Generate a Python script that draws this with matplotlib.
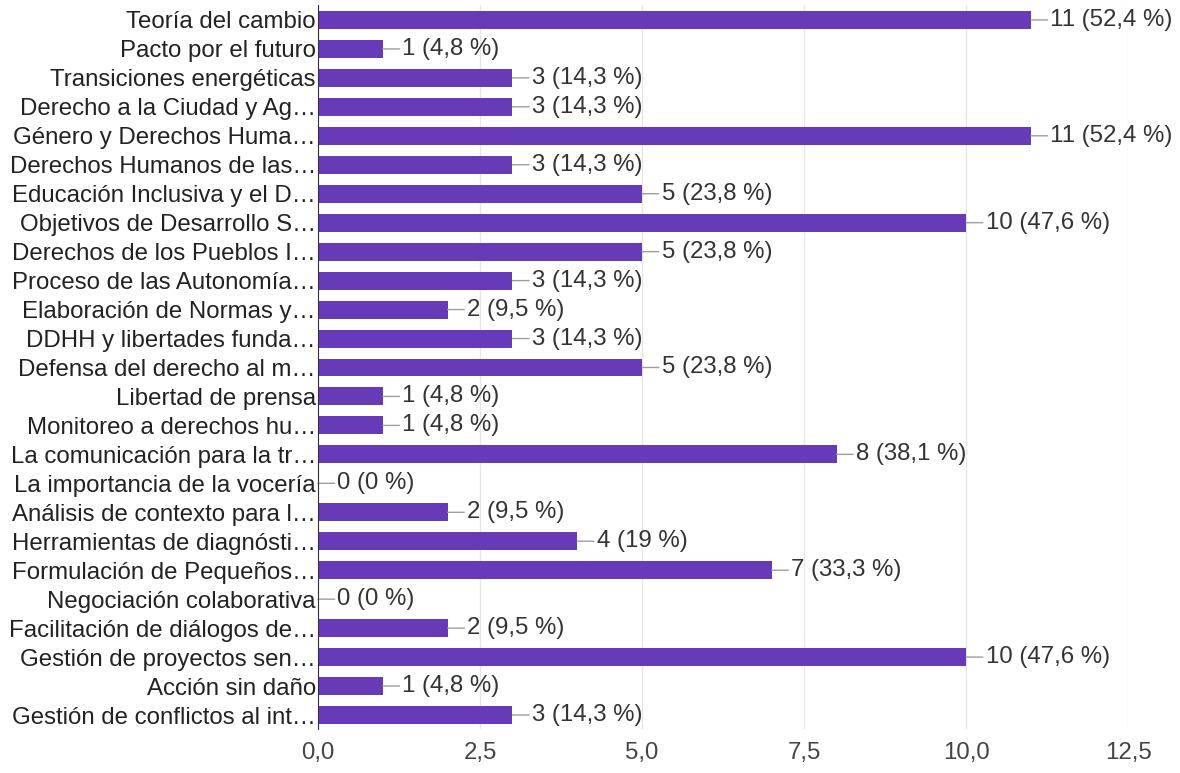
import matplotlib.pyplot as plt

plt.rcParams['font.family'] = ['Liberation Sans', 'DejaVu Sans']

categorias = [
    "Teoría del cambio", "Pacto por el futuro", "Transiciones energéticas",
    "Derecho a la Ciudad y Ag…", "Género y Derechos Huma…", "Derechos Humanos de las…",
    "Educación Inclusiva y el D…", "Objetivos de Desarrollo S…", "Derechos de los Pueblos I…",
    "Proceso de las Autonomía…", "Elaboración de Normas y…", "DDHH y libertades funda…",
    "Defensa del derecho al m…", "Libertad de prensa", "Monitoreo a derechos hu…",
    "La comunicación para la tr…", "La importancia de la vocería", "Análisis de contexto para l…",
    "Herramientas de diagnósti…", "Formulación de Pequeños…", "Negociación colaborativa",
    "Facilitación de diálogos de…", "Gestión de proyectos sen…", "Acción sin daño",
    "Gestión de conflictos al int…",
]
valores = [11, 1, 3, 3, 11, 3, 5, 10, 5, 3, 2, 3, 5, 1, 1, 8, 0, 2, 4, 7, 0, 2, 10, 1, 3]
etiquetas = ["11 (52,4 %)", "1 (4,8 %)", "3 (14,3 %)", "3 (14,3 %)", "11 (52,4 %)",
             "3 (14,3 %)", "5 (23,8 %)", "10 (47,6 %)", "5 (23,8 %)", "3 (14,3 %)",
             "2 (9,5 %)", "3 (14,3 %)", "5 (23,8 %)", "1 (4,8 %)", "1 (4,8 %)",
             "8 (38,1 %)", "0 (0 %)", "2 (9,5 %)", "4 (19 %)", "7 (33,3 %)",
             "0 (0 %)", "2 (9,5 %)", "10 (47,6 %)", "1 (4,8 %)", "3 (14,3 %)"]
ticks = [0, 2.5, 5, 7.5, 10, 12.5]
tick_labels = ["0,0", "2,5", "5,0", "7,5", "10,0", "12,5"]

fig = plt.figure(figsize=(11.8, 7.73), dpi=100)
ax = fig.add_axes([0.2695, 0.0563, 0.6866, 0.9366])

pos = list(range(len(categorias)))
ax.barh(pos, valores, height=0.62, color='#673ab7', zorder=3)

for p, v, t in zip(pos, valores, etiquetas):
    ax.annotate(t, xy=(v, p), xytext=(14, 0), textcoords='offset points',
                va='center', ha='left', fontsize=17.3, color='#333333',
                arrowprops=dict(arrowstyle='-', color='#9e9e9e', lw=1,
                                shrinkA=0, shrinkB=0))

ax.set_yticks(pos)
ax.set_yticklabels(categorias, fontsize=17.3, color='#222222')
ax.set_ylim(len(categorias) - 0.5, -0.5)
ax.set_xlim(0, 12.5)
ax.set_xticks(ticks)
ax.set_xticklabels(tick_labels, fontsize=17.3, color='#444444')
ax.tick_params(axis='both', length=0)
ax.tick_params(axis='x', pad=9)
ax.tick_params(axis='y', pad=1.5)
ax.grid(axis='x', color='#e6e6e6', lw=1, zorder=0)

for s in ['top', 'right', 'bottom']:
    ax.spines[s].set_visible(False)
ax.spines['left'].set_color('#333333')
ax.spines['left'].set_zorder(4)

fig.savefig('out.png', dpi=100)
